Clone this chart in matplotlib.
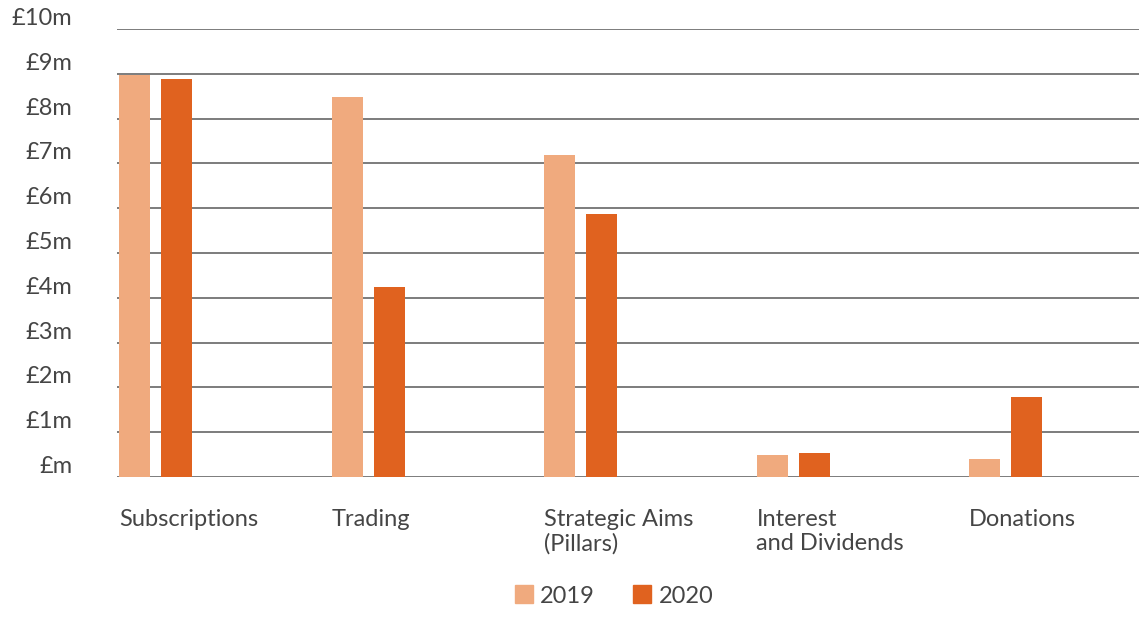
import matplotlib
matplotlib.use('Agg')
import matplotlib.pyplot as plt
from matplotlib.patches import Patch
import numpy as np

# income by source, £ millions
categories = ['Subscriptions', 'Trading', 'Strategic Aims\n(Pillars)',
              'Interest\nand Dividends', 'Donations']
income_2019 = [8.98, 8.48, 7.19, 0.49, 0.40]
income_2020 = [8.88, 4.24, 5.87, 0.54, 1.79]
years = ['2019', '2020']
ytick_vals = [0, 1, 2, 3, 4, 5, 6, 7, 8, 9, 10]
ytick_labels = ['£m', '£1m', '£2m', '£3m', '£4m', '£5m', '£6m', '£7m', '£8m', '£9m', '£10m']

col_2019 = '#f0aa7e'
col_2020 = '#e0621f'
text_col = '#454545'

plt.rcParams['font.family'] = ['Lato', 'DejaVu Sans']

W, H = 1139, 621
fig = plt.figure(figsize=(W / 100, H / 100), dpi=100)
ax = fig.add_axes([117 / W, 1 - 477 / H, (W - 117) / W, (477 - 29) / H])

step = 212.5
x = np.arange(len(categories))
bw = 31 / step
off = 42 / step
ax.bar(x, income_2019, width=bw, align='edge', color=col_2019, zorder=3)
ax.bar(x + off, income_2020, width=bw, align='edge', color=col_2020, zorder=3)

ax.set_xlim(-2 / step, (W - 119) / step)
ax.set_ylim(0, 10)
ax.set_yticks(ytick_vals)
ax.set_yticklabels(ytick_labels, fontsize=17, color=text_col)
ax.tick_params(axis='y', length=0, pad=32)
ax.set_xticks([])
for lab in ax.get_yticklabels():
    lab.set_verticalalignment('bottom')
ax.yaxis.grid(True, color='#666666', linewidth=1.2, zorder=0)
for s in ax.spines.values():
    s.set_visible(False)

# category labels under each pair of bars
for i, name in enumerate(categories):
    ax.text(i, -0.71, name, fontsize=17, color=text_col, ha='left', va='top',
            linespacing=1.2)

handles = [Patch(color=col_2019, label=years[0]), Patch(color=col_2020, label=years[1])]
fig.legend(handles=handles, loc='center', bbox_to_anchor=(614 / W, 1 - 596 / H), ncol=2,
           frameon=False, fontsize=17, labelcolor=text_col, handlelength=0.78,
           handleheight=0.78, handletextpad=0.3, columnspacing=1.6)

fig.savefig('out.png', dpi=100)
